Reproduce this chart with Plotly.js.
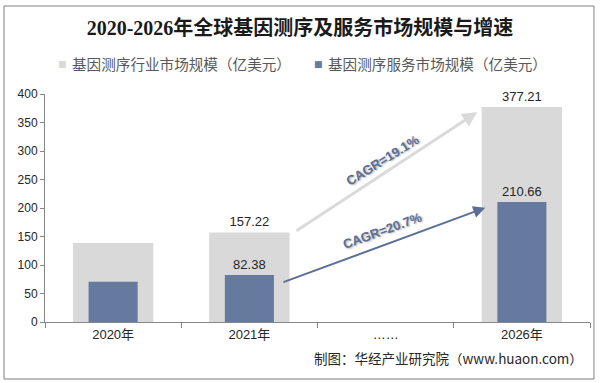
<!DOCTYPE html>
<html>
<head>
<meta charset="utf-8">
<script src="https://cdn.plot.ly/plotly-3.0.1.min.js"></script>
<style>
html,body{margin:0;padding:0;background:#fff;}
#chart{width:600px;height:383px;}
</style>
</head>
<body>
<div id="chart"></div>
<script>
// ---- data ----
var categories = ['2020年', '2021年', '……', '2026年'];
var industrySize = [138.4, 157.22, null, 377.21];   // 基因测序行业市场规模（亿美元）
var serviceSize  = [70.6, 82.38, null, 210.66];     // 基因测序服务市场规模（亿美元）
var industryLabels = ['', '157.22', '', '377.21'];
var serviceLabels  = ['', '82.38', '', '210.66'];
var seriesNames = ['基因测序行业市场规模（亿美元）', '基因测序服务市场规模（亿美元）'];
var seriesColors = ['#d9d9d9', '#66799f'];
var cagrLabels = ['CAGR=19.1%', 'CAGR=20.7%'];
var titleText = '2020-2026年全球基因测序及服务市场规模与增速';
var sourceText = '制图：华经产业研究院（www.huaon.com）';

var labelFont = {family: 'Arial, Liberation Sans, sans-serif', size: 13, color: '#262626'};

var traces = [
  {
    type: 'bar', name: seriesNames[0], x: categories, y: industrySize,
    width: 0.59, marker: {color: seriesColors[0]},
    text: industryLabels, textposition: 'outside', textfont: labelFont,
    cliponaxis: false, hoverinfo: 'skip', showlegend: false
  },
  {
    type: 'bar', name: seriesNames[1], x: categories, y: serviceSize,
    width: 0.36, marker: {color: seriesColors[1]},
    text: serviceLabels, textposition: 'outside', textfont: labelFont,
    cliponaxis: false, hoverinfo: 'skip', showlegend: false
  }
];

var cagrFont = {family: 'Arial, Liberation Sans, sans-serif', size: 13, color: '#5b6e95', weight: 'bold',
  shadow: '1px 1px 2px rgba(0,0,0,0.35)'};
var legendFont = {family: 'Noto Sans CJK SC, sans-serif', size: 14.6, color: '#595959'};

// legend drawn as annotations (compact markers like the reference)
var legendX = [0.0312, 0.501];
var legendAnn = [];
for (var i = 0; i < seriesNames.length; i++) {
  legendAnn.push({x: legendX[i], y: 1.1316, xref: 'paper', yref: 'paper', xanchor: 'center', yanchor: 'middle',
    text: '■', showarrow: false, font: {family: 'DejaVu Sans, sans-serif', size: 9, color: seriesColors[i]}});
  legendAnn.push({x: legendX[i] + 0.0147, y: 1.1316, xref: 'paper', yref: 'paper', xanchor: 'left', yanchor: 'middle',
    text: seriesNames[i], showarrow: false, font: legendFont});
}

var layout = {
  width: 600, height: 383,
  margin: {l: 45, r: 10, t: 94, b: 61},
  paper_bgcolor: '#ffffff', plot_bgcolor: '#ffffff',
  barmode: 'overlay',
  showlegend: false,
  title: {
    text: '<b>' + titleText + '</b>',
    font: {family: 'Liberation Serif, Noto Sans CJK SC, serif', size: 20, color: '#1a1a1a'},
    x: 0.5, xanchor: 'center', y: 0.928, yanchor: 'middle'
  },
  xaxis: {
    type: 'category', tickson: 'boundaries', ticks: 'outside', ticklen: 5,
    tickcolor: '#868686', showline: true, linecolor: '#868686', linewidth: 1,
    showgrid: false, zeroline: false,
    tickfont: {family: 'Arial, Noto Sans CJK SC, sans-serif', size: 13, color: '#262626'},
    range: [-0.5, 3.5], fixedrange: true
  },
  yaxis: {
    range: [0, 400], dtick: 50, ticks: 'outside', ticklen: 4, tickcolor: '#868686',
    showline: true, linecolor: '#868686', linewidth: 1, showgrid: false, zeroline: false,
    tickfont: {family: 'Arial, Liberation Sans, sans-serif', size: 12, color: '#262626'},
    fixedrange: true
  },
  shapes: [
    {type: 'rect', xref: 'paper', yref: 'paper', x0: -0.0752, x1: 1.0073, y0: -0.25, y1: 1.386,
     line: {color: '#7f7f7f', width: 1}, fillcolor: 'rgba(0,0,0,0)', layer: 'below'}
  ],
  annotations: [
    {x: 2.673, y: 368.4, ax: 1.335, ay: 158.2, axref: 'x', ayref: 'y', xref: 'x', yref: 'y',
     text: '', showarrow: true, arrowhead: 2, arrowsize: 1, arrowwidth: 3, arrowcolor: '#dadada'},
    {x: 2.731, y: 200.3, ax: 1.239, ay: 68.9, axref: 'x', ayref: 'y', xref: 'x', yref: 'y',
     text: '', showarrow: true, arrowhead: 2, arrowsize: 1.2, arrowwidth: 2, arrowcolor: '#5b6f96'},
    {x: 1.975, y: 284, xref: 'x', yref: 'y', text: cagrLabels[0], showarrow: false,
     textangle: -32, font: cagrFont},
    {x: 1.98, y: 160, xref: 'x', yref: 'y', text: cagrLabels[1], showarrow: false,
     textangle: -20, font: cagrFont},
    {x: 0.99, y: -0.157, xref: 'paper', yref: 'paper', xanchor: 'right', yanchor: 'middle',
     text: sourceText, showarrow: false,
     font: {family: 'Noto Sans CJK SC, Arial, sans-serif', size: 13.5, color: '#262626'}}
  ].concat(legendAnn)
};

Plotly.newPlot('chart', traces, layout, {displayModeBar: false, staticPlot: true});
</script>
</body>
</html>
